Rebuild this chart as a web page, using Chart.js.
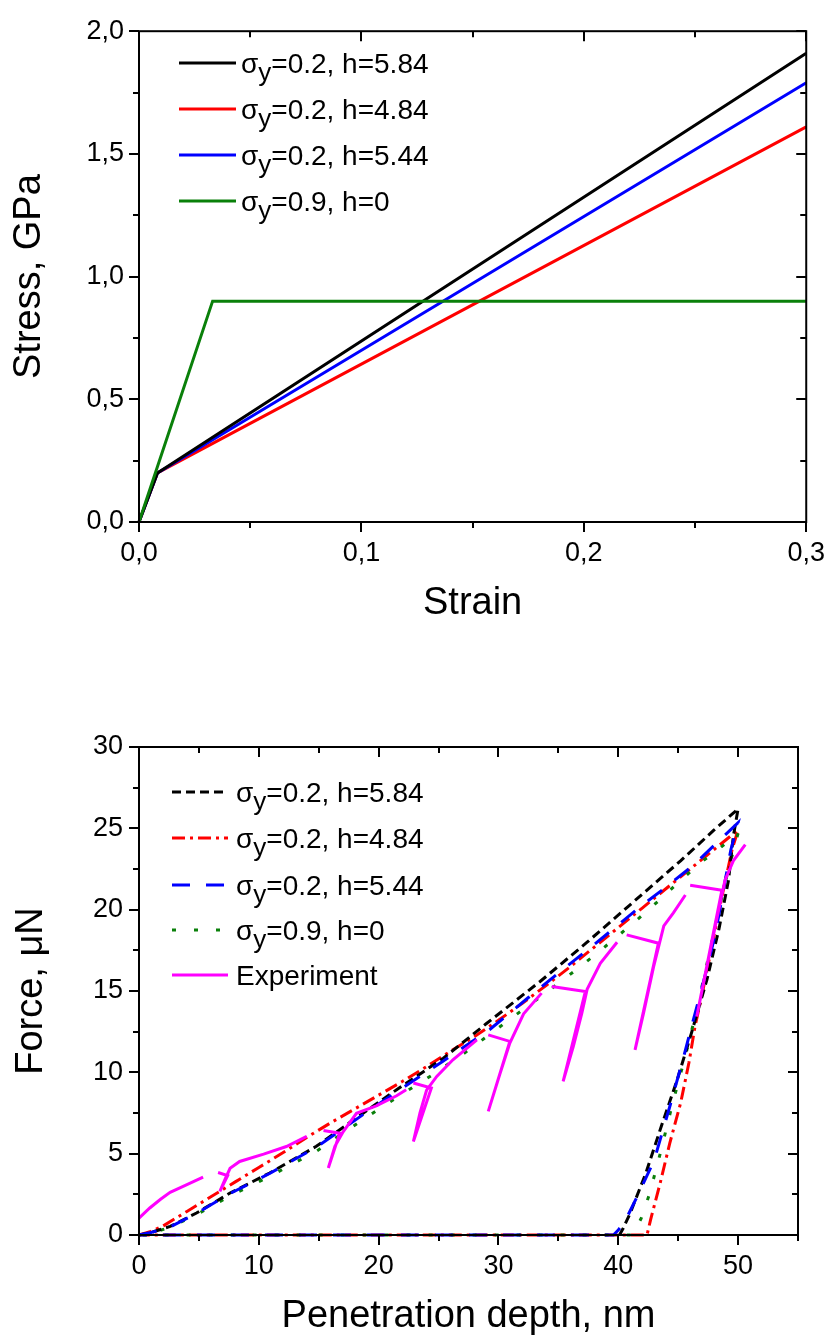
<!DOCTYPE html>
<html>
<head>
<meta charset="utf-8">
<script src="https://cdn.jsdelivr.net/npm/chart.js@4.4.1/dist/chart.umd.min.js"></script>
<style>
  html, body { margin: 0; padding: 0; background: #fff; }
  canvas { display: block; }
</style>
</head>
<body>
<canvas id="stressChart" width="840" height="670"></canvas>
<canvas id="forceChart" width="840" height="670"></canvas>
<script>
// ---- top chart: stress-strain curves ----
const strainBlack = [0, 0.0083, 0.3];
const stressBlack = [0, 0.2, 1.91];
const strainRed = [0, 0.0083, 0.3];
const stressRed = [0, 0.2, 1.61];
const strainBlue = [0, 0.0083, 0.3];
const stressBlue = [0, 0.2, 1.79];
const strainGreen = [0, 0.0331, 0.3];
const stressGreen = [0, 0.9, 0.9];

// ---- bottom chart: force vs penetration depth ----
// simulated curves: loading, unloading (and back along zero force)
const depthBlack = [0, 1, 2.6, 4.8, 7.6, 10.9, 14.8, 18.7, 21.5, 25.4, 29.0, 33.5, 37.4, 41.3, 45.2, 48.0, 50.0,
  49.6, 49.2, 48.4, 47.4, 46.1, 44.9, 43.6, 42.3, 41.0, 40.4, 40.1];
const forceBlack = [0, 0.15, 0.53, 1.35, 2.58, 3.81, 5.45, 7.49, 8.93, 10.87, 13.0, 15.6, 18.0, 20.5, 23.0, 24.9, 26.2,
  24.5, 21.8, 18.8, 15.7, 12.4, 9.5, 6.7, 3.8, 1.35, 0.4, 0];

const depthRed = [0, 1, 2, 4, 6, 8, 10, 12, 14, 16, 18, 20, 22, 24, 26, 28, 30, 32, 34, 36, 38, 40, 42, 44, 46, 48, 50,
  49.5, 48.65, 47.8, 47.0, 46.4, 45.9, 45.2, 44.3, 43.5, 42.7, 42.4, 0];
const forceRed = [0, 0.22, 0.55, 1.45, 2.35, 3.25, 4.15, 5.05, 6.0, 6.9, 7.75, 8.6, 9.45, 10.35, 11.3, 12.2, 13.2, 14.25, 15.35, 16.5, 17.7, 18.9, 20.1, 21.3, 22.5, 23.7, 24.9,
  23.7, 20.8, 17.7, 14.8, 12.8, 10.6, 8.1, 5.65, 3.2, 0.95, 0, 0];

const depthBlue = [0, 1, 2.6, 4.8, 7.6, 10.9, 14.8, 18.7, 21.5, 25.4, 29.3, 32.5, 35.5, 37.9, 41.7, 44.0, 46.3, 48.2, 50.0,
  49.4, 48.1, 47.3, 46.4, 45.4, 44.3, 43.0, 41.6, 40.6, 40.0, 39.6, 0];
const forceBlue = [0, 0.15, 0.5, 1.33, 2.55, 3.78, 5.4, 7.4, 8.8, 10.7, 12.65, 14.6, 16.4, 17.8, 20.1, 21.4, 22.75, 24.1, 25.35,
  23.7, 18.5, 16.1, 13.6, 10.8, 7.9, 4.6, 2.4, 0.9, 0.3, 0, 0];

const depthGreen = [0, 1, 2.5, 4.8, 7.6, 10.9, 14.8, 18.7, 21.5, 24.4, 27.0, 29.4, 31.3, 33.8, 36.3, 38.2, 40.0, 41.6, 43.3, 44.9, 46.8, 48.5, 50.0,
  49.2, 48.4, 47.5, 46.6, 45.6, 44.5, 43.5, 42.6, 41.9, 41.2, 0];
const forceGreen = [0, 0.12, 0.45, 1.25, 2.4, 3.6, 5.15, 7.1, 8.45, 9.8, 11.1, 12.4, 13.45, 14.8, 16.2, 17.3, 18.4, 19.4, 20.5, 21.6, 22.85, 23.8, 24.7,
  22.5, 20.0, 17.0, 14.0, 11.0, 8.0, 5.0, 2.5, 1.0, 0, 0];

// experiment: load / hold / partial unload / reload cycles (null = break in the trace)
const depthExp = [0, 0.9, 1.8, 2.6, 4.0, 5.35, 5.35,
  6.6, 7.4, 6.75, 7.16, 7.6, 8.4, 10.4, 12.3, 14.0, 14.0,
  15.4, 16.75, 15.8, 16.35, 17.05, 18.15, 19.8, 21.5, 22.3, 22.3,
  22.9, 24.4, 22.9, 23.45, 24.0, 24.85, 26.2, 28.2, 28.2,
  29.15, 30.95, 29.15, 30.1, 30.95, 32.1, 33.6, 33.6,
  34.45, 37.25, 35.4, 36.25, 36.95, 37.4, 38.5, 39.9, 39.9,
  40.7, 43.35, 41.4, 42.1, 42.95, 43.8, 44.6, 45.6, 45.6,
  46.0, 48.65, 46.55, 47.4, 48.2, 48.9, 49.6, 50.6];
const forceExp = [1.04, 1.66, 2.2, 2.62, 3.09, 3.56, null,
  3.84, 3.65, 2.68, 3.39, 4.1, 4.52, 4.97, 5.44, 6.06, null,
  6.43, 6.26, 4.12, 5.45, 6.36, 7.48, 7.94, 8.56, 8.93, null,
  9.34, 9.04, 5.75, 7.5, 8.9, 9.75, 10.77, 12.0, null,
  12.3, 11.9, 7.6, 9.85, 11.8, 13.6, 14.87, null,
  15.27, 14.97, 9.44, 11.6, 13.6, 15.1, 16.7, 18.0, null,
  18.45, 17.94, 11.38, 13.6, 16.5, 19.0, 19.8, 20.9, null,
  21.5, 21.2, 13.43, 16.5, 19.35, 21.8, 23.0, 24.0];

const topLabels = ['σy=0.2, h=5.84', 'σy=0.2, h=4.84', 'σy=0.2, h=5.44', 'σy=0.9, h=0'];
const bottomLabels = ['σy=0.2, h=5.84', 'σy=0.2, h=4.84', 'σy=0.2, h=5.44', 'σy=0.9, h=0', 'Experiment'];

const FONT = "'Liberation Sans', Arial, Helvetica, sans-serif";
const GREEN = '#0a800a';

function pts(xs, ys) {
  return xs.map((x, i) => ({ x: x, y: ys[i] }));
}

function commaFmt(v) {
  return Number(v).toFixed(1).replace('.', ',');
}

// box round the plot with outward ticks left/bottom and inward ticks right/top
function frameTicks(xMinor, xEvery, yMinor, yEvery) {
  return {
    id: 'frameTicks',
    afterDraw(chart) {
      const ctx = chart.ctx;
      const a = chart.chartArea;
      const sx = chart.scales.x, sy = chart.scales.y;
      ctx.save();
      ctx.strokeStyle = '#000';
      ctx.setLineDash([]);
      ctx.lineWidth = 2;
      ctx.strokeRect(a.left, a.top, a.right - a.left, a.bottom - a.top);
      const line = (x1, y1, x2, y2) => { ctx.beginPath(); ctx.moveTo(x1, y1); ctx.lineTo(x2, y2); ctx.stroke(); };
      for (let i = 0; i * xMinor <= sx.max + 1e-9; i++) {
        const px = Math.round(sx.getPixelForValue(i * xMinor));
        const len = i % xEvery === 0 ? 10 : 6;
        line(px, a.bottom, px, a.bottom + len);
        line(px, a.top, px, a.top + len);
      }
      for (let i = 0; i * yMinor <= sy.max + 1e-9; i++) {
        const py = Math.round(sy.getPixelForValue(i * yMinor));
        const len = i % yEvery === 0 ? 10 : 6;
        line(a.left - len, py, a.left, py);
        line(a.right - len, py, a.right, py);
      }
      ctx.restore();
    }
  };
}

// legend with the y of sigma drawn as a subscript
function sigmaLegend(rows, x1, x2, tx) {
  return {
    id: 'sigmaLegend',
    afterDraw(chart) {
      const ctx = chart.ctx;
      ctx.save();
      chart.data.datasets.forEach((ds, i) => {
        const y = rows[i];
        ctx.strokeStyle = ds.borderColor;
        ctx.lineWidth = 3;
        ctx.lineCap = 'butt';
        ctx.setLineDash(ds.borderDash || []);
        ctx.beginPath();
        ctx.moveTo(x1, y);
        ctx.lineTo(x2, y);
        ctx.stroke();
        ctx.setLineDash([]);
        ctx.fillStyle = '#000';
        ctx.textAlign = 'left';
        ctx.textBaseline = 'alphabetic';
        const base = y + 10;
        let x = tx;
        if (ds.label.startsWith('σy')) {
          ctx.font = '28px ' + FONT;
          ctx.fillText('σ', x, base);
          x += ctx.measureText('σ').width;
          ctx.font = '26px ' + FONT;
          ctx.fillText('y', x, base + 8);
          x += ctx.measureText('y').width;
          ctx.font = '28px ' + FONT;
          ctx.fillText(ds.label.slice(2), x, base);
        } else {
          ctx.font = '28px ' + FONT;
          ctx.fillText(ds.label, x, base);
        }
      });
      ctx.restore();
    }
  };
}

const tickFont = { family: FONT, size: 27 };
const titleFont = { family: FONT, size: 38, lineHeight: 1 };

function baseOptions(pad) {
  return {
    responsive: false,
    animation: false,
    devicePixelRatio: 1,
    layout: { padding: pad },
    elements: { point: { radius: 0 }, line: { borderWidth: 3, tension: 0, fill: false } },
    plugins: { legend: { display: false }, tooltip: { enabled: false } }
  };
}

// ---- stress-strain ----
const topOpts = baseOptions({ top: 24, right: 22, left: 0, bottom: 0 });
topOpts.scales = {
  x: {
    type: 'linear', min: 0, max: 0.3,
    afterFit: s => { s.height = 148; },
    grid: { display: false, drawTicks: false, tickLength: 0 },
    border: { display: false },
    ticks: { stepSize: 0.1, padding: 15, color: '#000', font: tickFont, autoSkip: false, maxRotation: 0, callback: commaFmt },
    title: { display: true, text: 'Strain', color: '#000', font: titleFont, padding: { top: 0, bottom: 47 } }
  },
  y: {
    type: 'linear', min: 0, max: 2,
    afterFit: s => { s.width = 139; },
    grid: { display: false, drawTicks: false, tickLength: 0 },
    border: { display: false },
    ticks: { stepSize: 0.5, padding: 15, color: '#000', font: tickFont, autoSkip: false, callback: commaFmt },
    title: { display: true, text: 'Stress, GPa', color: '#000', font: titleFont, padding: { top: 11, bottom: 0 } }
  }
};

new Chart(document.getElementById('stressChart'), {
  type: 'line',
  data: {
    datasets: [
      { label: topLabels[0], data: pts(strainBlack, stressBlack), borderColor: '#000000', order: 1, clip: false },
      { label: topLabels[1], data: pts(strainRed, stressRed), borderColor: '#ff0000', order: 3, clip: false },
      { label: topLabels[2], data: pts(strainBlue, stressBlue), borderColor: '#0000ff', order: 2, clip: false },
      { label: topLabels[3], data: pts(strainGreen, stressGreen), borderColor: GREEN, order: 0, clip: false }
    ]
  },
  options: topOpts,
  plugins: [frameTicks(0.05, 2, 0.25, 2), sigmaLegend([63, 109, 155, 201], 179, 236, 241)]
});

// ---- force-depth ----
const botOpts = baseOptions({ top: 77, right: 42, left: 0, bottom: 0 });
botOpts.scales = {
  x: {
    type: 'linear', min: 0, max: 55,
    afterFit: s => { s.height = 105; },
    grid: { display: false, drawTicks: false, tickLength: 0 },
    border: { display: false },
    ticks: { stepSize: 10, includeBounds: false, padding: 15, color: '#000', font: tickFont, autoSkip: false, maxRotation: 0 },
    title: { display: true, text: 'Penetration depth, nm', color: '#000', font: titleFont, padding: { top: 0, bottom: 4 } }
  },
  y: {
    type: 'linear', min: 0, max: 30,
    afterFit: s => { s.width = 139; },
    grid: { display: false, drawTicks: false, tickLength: 0 },
    border: { display: false },
    ticks: { stepSize: 5, padding: 16, color: '#000', font: tickFont, autoSkip: false },
    title: { display: true, text: 'Force, μN', color: '#000', font: titleFont, padding: { top: 13, bottom: 0 } }
  }
};

new Chart(document.getElementById('forceChart'), {
  type: 'line',
  data: {
    datasets: [
      { label: bottomLabels[0], data: pts(depthBlack, forceBlack), borderColor: '#000000', borderDash: [9, 5], order: 2, clip: 4 },
      { label: bottomLabels[1], data: pts(depthRed, forceRed), borderColor: '#ff0000', borderDash: [13, 5, 3, 5], order: 4, clip: 4 },
      { label: bottomLabels[2], data: pts(depthBlue, forceBlue), borderColor: '#0000ff', borderDash: [18, 16], order: 1, clip: 4 },
      { label: bottomLabels[3], data: pts(depthGreen, forceGreen), borderColor: GREEN, borderDash: [4, 18], order: 3, clip: 4 },
      { label: bottomLabels[4], data: pts(depthExp, forceExp), borderColor: '#ff00ff', order: 0, clip: 4, spanGaps: false }
    ]
  },
  options: botOpts,
  plugins: [frameTicks(5, 2, 2.5, 2), sigmaLegend([122, 168, 215, 260, 305], 172, 228, 236)]
});
</script>
</body>
</html>
